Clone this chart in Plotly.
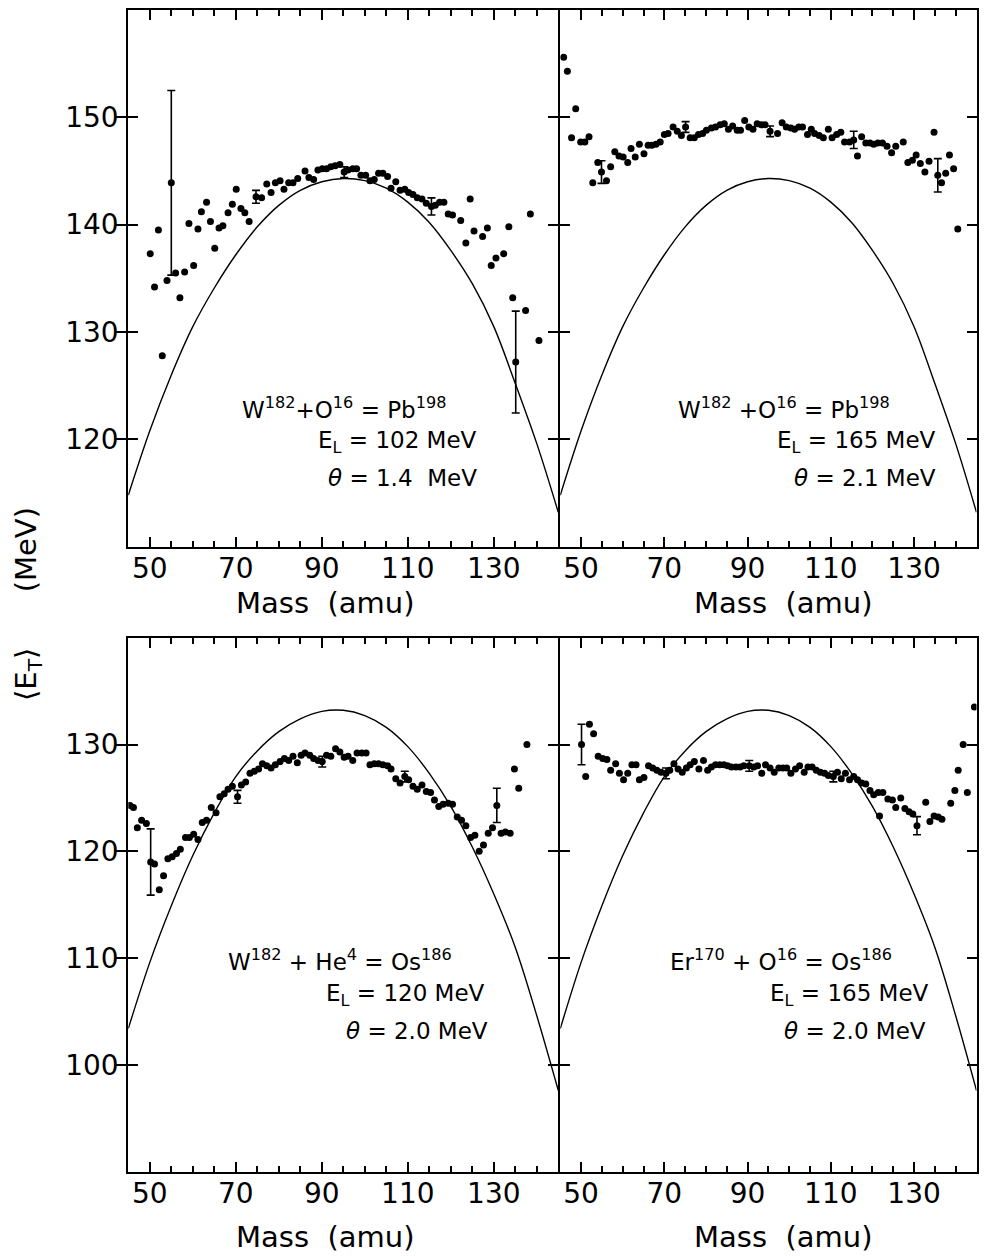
import plotly.graph_objects as go

# ---- top-left: W182 + O16 = Pb198, E_L = 102 MeV
tl_mass = [50.1, 51.1, 52.0, 52.9, 54.0, 56.0, 57.0, 58.1, 59.1, 60.2, 61.2, 62.0, 63.2, 64.1, 65.1,
           66.1, 67.0, 68.2, 69.2, 70.1, 71.2, 72.1, 73.1, 76.0, 77.2, 78.2, 79.2, 80.3, 81.2, 82.3,
           83.3, 84.4, 86.1, 87.0, 88.1, 89.1, 90.1, 91.1, 92.1, 93.1, 94.2, 96.1, 97.2, 98.1, 99.1,
           100.2, 101.2, 102.2, 103.2, 104.2, 105.3, 106.1, 107.2, 108.2, 109.3, 110.2, 111.2, 112.2,
           113.3, 114.3, 116.4, 117.4, 118.4, 119.4, 120.4, 122.3, 123.5, 124.5, 125.4, 127.4, 128.5,
           129.4, 130.5, 132.3, 133.5, 134.4, 137.4, 138.5, 140.5]
tl_et = [137.3, 134.2, 139.5, 127.8, 134.8, 135.5, 133.2, 135.6, 140.1, 136.2, 139.6, 141.2, 142.1, 140.3, 137.8,
         139.7, 139.9, 141.1, 141.9, 143.3, 141.5, 141.1, 140.3, 142.5, 143.8, 143.0, 143.9, 144.1, 143.3, 143.9,
         143.9, 144.3, 145.0, 144.4, 144.2, 145.1, 145.2, 145.2, 145.4, 145.5, 145.6, 145.1, 145.2, 145.2, 144.6,
         144.6, 144.1, 144.2, 144.8, 144.8, 144.5, 143.4, 144.0, 143.2, 143.3, 143.0, 142.8, 142.5,
         142.4, 142.0, 141.8, 142.1, 142.1, 141.0, 140.9, 140.4, 138.3, 142.4, 139.4, 138.9, 139.7,
         136.2, 136.9, 137.3, 139.8, 133.2, 132.0, 141.0, 129.2]
tl_err_mass = [55.0, 74.7, 95.2, 115.5, 135.1]
tl_err_et = [143.9, 142.6, 144.9, 141.7, 127.2]
tl_err = [8.6, 0.6, 0.5, 0.8, 4.75]

# ---- top-right: W182 + O16 = Pb198, E_L = 165 MeV
tr_mass = [45.8, 46.7, 47.7, 48.7, 49.9, 50.9, 51.9, 52.8, 54.0, 56.1, 57.1, 58.1, 59.1, 60.1, 61.2,
           62.0, 63.0, 64.0, 65.1, 66.1, 67.0, 68.0, 69.0, 70.0, 70.9, 72.1, 73.1, 74.1, 76.2, 77.2,
           78.2, 79.2, 80.1, 81.3, 82.3, 83.4, 84.4, 85.4, 86.4, 87.5, 88.3, 89.3, 90.3, 91.3, 92.3,
           93.3, 94.2, 97.2, 98.3, 99.3, 100.4, 101.3, 102.3, 103.2, 104.4, 105.3, 106.1, 107.2, 108.2,
           109.4, 110.3, 111.4, 112.4, 113.3, 114.5, 116.4, 117.4, 118.4, 119.4, 120.3, 121.3, 122.4,
           123.5, 124.6, 125.6, 127.4, 128.5, 129.6, 130.5, 131.5, 132.6, 133.6, 134.8, 136.6, 137.6,
           138.5, 139.5, 140.5]
tr_et = [155.6, 154.3, 148.1, 150.8, 147.7, 147.7, 148.2, 143.9, 145.8, 144.1, 145.4, 146.8, 146.4, 146.3, 145.8,
         147.1, 146.3, 147.5, 146.6, 147.4, 147.4, 147.5, 147.7, 148.4, 148.5, 149.1, 148.7, 148.3, 148.1, 148.1,
         148.4, 148.5, 148.8, 149.0, 149.1, 149.3, 149.4, 148.9, 149.2, 148.8, 148.8, 149.7, 149.1, 148.9, 149.4,
         149.3, 149.3, 148.5, 149.5, 149.1, 149.0, 148.9, 149.1, 149.1, 148.4, 148.9, 148.5, 148.3, 148.1,
         148.9, 148.1, 148.4, 148.6, 147.7, 147.7, 146.4, 148.2, 147.6, 147.6, 147.5, 147.6, 147.6,
         147.3, 146.7, 147.3, 147.7, 145.8, 146.0, 146.5, 145.7, 144.9, 145.9, 148.6, 143.9, 144.8,
         146.5, 145.2, 139.6]
tr_err_mass = [54.9, 75.1, 95.4, 115.5, 135.7]
tr_err_et = [144.9, 149.1, 148.7, 147.9, 144.6]
tr_err = [1.05, 0.5, 0.5, 0.8, 1.55]

# ---- bottom-left: W182 + He4 = Os186, E_L = 120 MeV
bl_mass = [45.4, 46.2, 47.1, 48.1, 49.2, 51.1, 52.2, 53.2, 54.2, 55.2, 56.2, 57.1, 58.3, 59.2, 60.2,
           61.2, 62.2, 63.2, 64.3, 65.4, 66.3, 67.3, 68.2, 69.2, 71.3, 72.3, 73.3, 74.3, 75.3, 76.2,
           77.2, 78.2, 79.2, 80.3, 81.3, 82.3, 83.3, 84.3, 85.2, 86.1, 87.2, 88.1, 89.1, 91.1, 92.1,
           93.2, 94.2, 95.2, 96.1, 97.2, 98.2, 99.3, 100.3, 101.2, 102.2, 103.2, 104.2, 105.3, 106.1,
           107.2, 108.2, 110.2, 111.2, 112.2, 113.3, 114.3, 115.3, 116.2, 117.2, 118.2, 119.4, 120.4,
           121.5, 122.5, 123.5, 124.6, 125.6, 126.6, 127.6, 128.7, 129.7, 131.7, 132.7, 133.8, 134.8,
           135.8, 137.7]
bl_et = [124.3, 124.1, 122.2, 122.9, 122.6, 118.8, 116.4, 117.7, 119.3, 119.5, 119.8, 120.2, 121.3, 121.3, 121.6,
         121.1, 122.7, 122.9, 124.1, 123.6, 125.1, 125.4, 125.8, 126.1, 126.2, 126.5, 127.3, 127.5, 127.7, 128.2,
         128.0, 127.8, 128.1, 128.4, 128.7, 128.5, 128.9, 128.3, 129.0, 129.2, 129.0, 128.7, 128.5, 129.0, 128.9,
         129.6, 129.3, 128.8, 128.9, 128.5, 129.2, 129.2, 129.2, 128.1, 128.2, 128.2, 128.1, 128.0, 127.7,
         126.8, 126.4, 126.7, 126.1, 125.8, 126.2, 125.6, 125.5, 124.8, 124.2, 124.4, 124.5, 124.4,
         123.2, 122.9, 122.4, 121.3, 121.5, 120.0, 120.6, 121.7, 122.2, 121.7, 121.8, 121.7, 127.7,
         125.9, 130.0]
bl_err_mass = [50.2, 70.4, 90.1, 109.3, 130.7]
bl_err_et = [119.0, 125.1, 128.4, 127.0, 124.3]
bl_err = [3.1, 0.6, 0.5, 0.5, 1.6]

# ---- bottom-right: Er170 + O16 = Os186, E_L = 165 MeV
br_mass = [51.1, 52.0, 53.0, 54.1, 55.2, 56.2, 57.1, 58.3, 59.2, 60.2, 61.2, 62.2, 63.2, 64.0, 65.1,
           66.2, 67.2, 68.2, 69.2, 71.3, 72.3, 73.3, 74.3, 75.3, 76.2, 77.2, 78.3, 79.4, 80.4, 81.3,
           82.3, 83.3, 84.3, 85.2, 86.1, 87.2, 88.2, 89.1, 91.5, 92.4, 93.4, 94.3, 95.4, 96.4, 97.5,
           98.5, 99.4, 100.4, 101.5, 102.5, 103.6, 104.5, 105.5, 106.5, 107.5, 108.5, 109.4, 111.6,
           112.5, 113.5, 114.5, 115.5, 116.4, 117.4, 118.4, 119.4, 120.3, 121.4, 121.7, 122.5, 123.7,
           124.8, 125.6, 126.8, 127.8, 128.8, 129.7, 132.8, 133.8, 134.8, 135.8, 136.7, 138.8, 139.8,
           140.6, 141.8, 142.8, 144.5]
br_et = [127.0, 131.9, 131.0, 128.9, 128.7, 128.6, 127.6, 128.2, 127.3, 126.7, 127.3, 128.1, 128.1, 126.7, 126.9,
         128.0, 127.8, 127.6, 127.4, 127.6, 128.2, 127.7, 127.4, 127.8, 128.1, 128.4, 127.7, 128.5, 127.6, 127.9,
         128.1, 128.1, 128.1, 128.0, 127.9, 127.9, 127.9, 128.0, 127.9, 128.0, 127.3, 128.1, 127.8, 127.4, 127.8,
         127.8, 127.8, 127.3, 127.7, 128.0, 127.4, 127.9, 127.9, 127.6, 127.4, 127.3, 127.1, 127.4,
         126.8, 127.3, 126.7, 127.0, 126.7, 126.4, 126.3, 125.7, 125.3, 125.5, 123.3, 125.5, 124.9,
         124.8, 124.1, 125.0, 124.0, 123.7, 123.5, 124.6, 122.8, 123.3, 123.2, 123.0, 124.5, 125.7,
         127.6, 130.0, 125.5, 133.5]
br_err_mass = [50.1, 70.4, 90.4, 110.6, 130.7]
br_err_et = [130.0, 127.3, 128.0, 127.0, 122.4]
br_err = [1.9, 0.5, 0.5, 0.5, 0.85]

# ---- calculated curves
curve_mass = [45, 50, 55, 60, 65, 70, 75, 80, 85, 90, 95, 100, 105, 110, 115, 120, 125, 130, 135, 140, 145]
curve_top = [114.8, 120.8, 126.0, 130.5, 134.1, 137.2, 139.8, 141.8, 143.2, 144.0, 144.3, 144.1, 143.4,
             142.1, 140.2, 137.6, 134.5, 130.5, 125.2, 119.6, 113.2]
curve_bottom = [103.4, 109.6, 114.9, 119.6, 123.6, 127.0, 129.4, 131.2, 132.4, 133.1, 133.2, 132.7, 131.6,
                129.8, 127.3, 124.2, 120.4, 116.0, 111.0, 104.6, 97.6]

labels = [
    ("W<sup>182</sup>+O<sup>16</sup> = Pb<sup>198</sup>", "E<sub>L</sub> = 102 MeV", "<i>θ</i> = 1.4  MeV"),
    ("W<sup>182</sup> +O<sup>16</sup> = Pb<sup>198</sup>", "E<sub>L</sub> = 165 MeV", "<i>θ</i> = 2.1 MeV"),
    ("W<sup>182</sup> + He<sup>4</sup> = Os<sup>186</sup>", "E<sub>L</sub> = 120 MeV", "<i>θ</i> = 2.0 MeV"),
    ("Er<sup>170</sup> + O<sup>16</sup> = Os<sup>186</sup>", "E<sub>L</sub> = 165 MeV", "<i>θ</i> = 2.0 MeV"),
]

# the page body has an 8 px margin and only ~971 px of width is visible;
# positions below are window pixels
OFF = 8
W, H = 971, 1250
FONT = "DejaVu Sans"
LW = 2


def px(x):
    return (x - OFF) / W


def py(y):
    return 1 - (y - OFF) / H


panels = [
    (tl_mass, tl_et, tl_err_mass, tl_err_et, tl_err, curve_top),
    (tr_mass, tr_et, tr_err_mass, tr_err_et, tr_err, curve_top),
    (bl_mass, bl_et, bl_err_mass, bl_err_et, bl_err, curve_bottom),
    (br_mass, br_et, br_err_mass, br_err_et, br_err, curve_bottom),
]

fig = go.Figure()

for i, (m, e, em, ee, err, curve) in enumerate(panels):
    n = "" if i == 0 else str(i + 1)
    xa, ya = "x" + n, "y" + n
    fig.add_trace(go.Scatter(x=curve_mass, y=curve, mode="lines", line=dict(color="black", width=1.4, shape="spline"),
                             xaxis=xa, yaxis=ya, showlegend=False, hoverinfo="skip"))
    fig.add_trace(go.Scatter(x=m, y=e, mode="markers", marker=dict(color="black", size=7),
                             xaxis=xa, yaxis=ya, showlegend=False))
    fig.add_trace(go.Scatter(x=em, y=ee, mode="markers", marker=dict(color="black", size=7),
                             error_y=dict(type="data", array=err, color="black", thickness=1.6, width=4),
                             xaxis=xa, yaxis=ya, showlegend=False))
    # empty trace so the top tick axis is drawn
    fig.add_trace(go.Scatter(x=[], y=[], xaxis="x" + str(i + 5), yaxis=ya, showlegend=False))

x_dom = [[px(128.3), px(558.3)], [px(558.3 + LW), px(976.5)]]
y_dom = [[py(546.7), py(10)], [py(1171.7), py(637.7)]]
y_rng = [[110, 160], [90, 140]]
y_ticks = [[120, 130, 140, 150], [100, 110, 120, 130]]

tick_style = dict(ticks="inside", ticklen=10, tickwidth=1.7, tickcolor="black")
minor_style = dict(tick0=50, dtick=5, ticks="inside", ticklen=6, tickwidth=1.7, tickcolor="black")

layout_axes = {}
for i in range(4):
    row, col = divmod(i, 2)
    n = "" if i == 0 else str(i + 1)
    layout_axes["xaxis" + n] = dict(
        domain=x_dom[col], anchor="y" + n, range=[45, 145], automargin=False,
        tickmode="linear", tick0=50, dtick=20, minor=minor_style, **tick_style,
        showline=True, linewidth=LW, linecolor="black", mirror=True,
        showgrid=False, zeroline=False, ticklabelstandoff=-4,
        tickfont=dict(family=FONT, size=28, color="black"),
    )
    # ticks along the top edge
    layout_axes["xaxis" + str(i + 5)] = dict(
        domain=x_dom[col], anchor="y" + n, overlaying="x" + n, side="top", range=[45, 145], automargin=False,
        tickmode="linear", tick0=50, dtick=20, minor=minor_style, **tick_style,
        showline=False, showgrid=False, zeroline=False, showticklabels=False,
    )
    layout_axes["yaxis" + n] = dict(
        domain=y_dom[row], anchor="x" + n, range=y_rng[row], automargin=False,
        tickmode="array", tickvals=y_ticks[row], **tick_style,
        showline=True, linewidth=LW, linecolor="black", mirror="allticks",
        showgrid=False, zeroline=False, showticklabels=(col == 0), ticklabelstandoff=2,
        tickfont=dict(family=FONT, size=28, color="black"),
    )

annotations = []
# reaction / beam energy / temperature captions
cap_left = [240, 676, 226, 668]
cap_right_el = [479, 938, 487, 931]
cap_right_th = [479, 938, 490, 928]
cap_y = [(408, 442, 478), (408, 442, 478), (960, 995, 1031), (960, 995, 1031)]
for i, (reac, el, th) in enumerate(labels):
    y0, y1, y2 = cap_y[i]
    annotations.append(dict(text=reac, x=px(cap_left[i]), y=py(y0), xanchor="left", yanchor="middle"))
    annotations.append(dict(text=el, x=px(cap_right_el[i]), y=py(y1), xanchor="right", yanchor="middle"))
    annotations.append(dict(text=th, x=px(cap_right_th[i]), y=py(y2), xanchor="right", yanchor="middle"))
for a in annotations:
    a.update(xref="paper", yref="paper", showarrow=False, font=dict(family=FONT, size=23, color="black"))

# axis titles
for xc, yc in [(325, 603), (783, 603), (325, 1237), (783, 1237)]:
    annotations.append(dict(text="Mass  (amu)", x=px(xc), y=py(yc), xref="paper", yref="paper",
                            showarrow=False, xanchor="center", yanchor="middle",
                            font=dict(family=FONT, size=29, color="black")))
annotations.append(dict(text="⟨E<sub>T</sub>⟩      (MeV)", x=px(28), y=py(604), xref="paper", yref="paper",
                        showarrow=False, textangle=-90, xanchor="center", yanchor="middle",
                        font=dict(family=FONT, size=29, color="black")))

fig.update_layout(
    width=W, height=H,
    margin=dict(l=0, r=0, t=0, b=0, autoexpand=False),
    paper_bgcolor="white", plot_bgcolor="white",
    font=dict(family=FONT, color="black"),
    annotations=annotations,
    **layout_axes,
)

fig.write_html("out.html")
